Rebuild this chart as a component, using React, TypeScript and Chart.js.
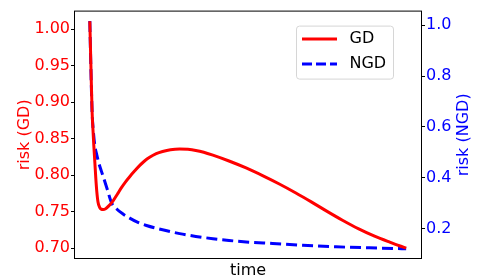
import React, { useEffect, useRef } from "react";
import { Chart, registerables } from "chart.js";

Chart.register(...registerables);

// ---- data ----
const gdTime = [0, 0.4, 0.73, 1.0, 1.26, 1.6, 1.89, 2.2, 2.6, 3.1, 3.6, 4.2, 5.0, 6.0, 7.35, 8.7, 10, 11.3, 12.6, 14.2, 15.8, 17.3, 18.9, 21, 23, 25.5, 28.4, 31, 33.5, 36, 38.9, 44, 49.4, 54.6, 59.9, 65, 70, 75, 80, 85, 90, 95, 100];
const gdRisk = [1.011, 0.94, 0.886, 0.862, 0.841, 0.817, 0.796, 0.778, 0.763, 0.756, 0.7535, 0.753, 0.754, 0.758, 0.765, 0.774, 0.783, 0.791, 0.798, 0.806, 0.8135, 0.8195, 0.8245, 0.8295, 0.8325, 0.835, 0.836, 0.8355, 0.834, 0.8315, 0.8275, 0.8195, 0.81, 0.7995, 0.788, 0.776, 0.7635, 0.7505, 0.738, 0.7265, 0.7165, 0.708, 0.7];
const ngdTime = [0, 0.3, 0.73, 1.1, 1.58, 2.2, 2.84, 3.6, 4.4, 5.6, 6.85, 8.5, 10.5, 12.6, 15.2, 17.9, 23, 28.4, 33.5, 38.9, 44, 49.4, 57.8, 67.3, 77.8, 88.3, 100];
const ngdRisk = [1.017, 0.85, 0.656, 0.585, 0.527, 0.49, 0.458, 0.428, 0.398, 0.351, 0.302, 0.277, 0.257, 0.241, 0.224, 0.212, 0.195, 0.18, 0.169, 0.16, 0.153, 0.147, 0.141, 0.134, 0.128, 0.124, 0.12];

const leftTicks = [0.7, 0.75, 0.8, 0.85, 0.9, 0.95, 1.0];
const rightTicks = [0.2, 0.4, 0.6, 0.8, 1.0];
const seriesLabels = ["GD", "NGD"];
const xTitle = "time";
const leftTitle = "risk (GD)";
const rightTitle = "risk (NGD)";

const FONT = "DejaVu Sans";
const RED = "#ff0000";
const BLUE = "#0000ff";
const DASH = [11, 5];

const decor = {
  id: "decor",
  afterDatasetsDraw(chart: any) {
    const { ctx, chartArea: a } = chart;
    ctx.save();
    // frame
    ctx.strokeStyle = "#000";
    ctx.lineWidth = 1;
    ctx.setLineDash([]);
    ctx.strokeRect(a.left + 0.5, a.top + 0.5, a.right - a.left - 1, a.bottom - a.top - 1);

    // axis titles
    ctx.font = `16px "${FONT}"`;
    ctx.textAlign = "center";
    ctx.textBaseline = "alphabetic";
    ctx.fillStyle = "#000";
    ctx.fillText(xTitle, (a.left + a.right) / 2, a.bottom + 16);
    const cy = (a.top + a.bottom) / 2;
    ctx.save();
    ctx.translate(a.left - 45.5, cy);
    ctx.rotate(-Math.PI / 2);
    ctx.fillStyle = RED;
    ctx.fillText(leftTitle, 0, 0);
    ctx.restore();
    ctx.save();
    ctx.translate(a.right + 46, cy);
    ctx.rotate(-Math.PI / 2);
    ctx.fillStyle = BLUE;
    ctx.fillText(rightTitle, 0, 0);
    ctx.restore();

    // legend
    const bx = a.right - 125.5;
    const by = a.top + 15.5;
    const bw = 97;
    const bh = 53;
    ctx.beginPath();
    (ctx as any).roundRect(bx, by, bw, bh, 3);
    ctx.fillStyle = "rgba(255,255,255,0.8)";
    ctx.fill();
    ctx.strokeStyle = "#d6d6d6";
    ctx.lineWidth = 1;
    ctx.stroke();

    const hx0 = bx + 5.5;
    const hx1 = bx + 40.5;
    const rows = [by + 12.8, by + 37.8];
    const colors = [RED, BLUE];
    ctx.lineWidth = 3;
    rows.forEach((y, i) => {
      ctx.beginPath();
      ctx.setLineDash(i === 1 ? [10, 4] : []);
      ctx.strokeStyle = colors[i];
      ctx.moveTo(hx0, y);
      ctx.lineTo(hx1, y);
      ctx.stroke();
      ctx.setLineDash([]);
      ctx.fillStyle = "#000";
      ctx.textAlign = "left";
      ctx.textBaseline = "middle";
      ctx.fillText(seriesLabels[i], bx + 53, y);
    });
    ctx.restore();
  },
};

export default function App() {
  const ref = useRef<HTMLCanvasElement | null>(null);

  useEffect(() => {
    if (!ref.current) return;
    const chart = new Chart(ref.current, {
      type: "line",
      data: {
        datasets: [
          {
            label: seriesLabels[0],
            data: gdTime.map((t, i) => ({ x: t, y: gdRisk[i] })),
            borderColor: RED,
            backgroundColor: RED,
            borderWidth: 3,
            pointRadius: 0,
            cubicInterpolationMode: "monotone",
            yAxisID: "y",
          },
          {
            label: seriesLabels[1],
            data: ngdTime.map((t, i) => ({ x: t, y: ngdRisk[i] })),
            borderColor: BLUE,
            backgroundColor: BLUE,
            borderWidth: 3,
            borderDash: DASH,
            pointRadius: 0,
            cubicInterpolationMode: "monotone",
            yAxisID: "y1",
          },
        ],
      },
      options: {
        animation: false,
        responsive: false,
        devicePixelRatio: 1,
        layout: { padding: { top: 6, bottom: 19, left: 0, right: 0 } },
        plugins: { legend: { display: false }, tooltip: { enabled: false } },
        scales: {
          x: {
            type: "linear",
            min: -5,
            max: 105,
            display: false,
          },
          y: {
            type: "linear",
            position: "left",
            min: 0.6852,
            max: 1.0256,
            afterBuildTicks: (s: any) => {
              s.ticks = leftTicks.map((v) => ({ value: v }));
            },
            afterFit: (s: any) => {
              s.width = 74;
            },
            border: { display: false },
            grid: {
              drawOnChartArea: false,
              drawTicks: true,
              tickLength: 3,
              tickColor: "#000",
              tickWidth: 1,
            },
            ticks: {
              autoSkip: false,
              padding: 1,
              color: RED,
              font: { family: FONT, size: 16 },
              callback: (v: any) => Number(v).toFixed(2),
            },
          },
          y1: {
            type: "linear",
            position: "right",
            min: 0.08,
            max: 1.058,
            afterBuildTicks: (s: any) => {
              s.ticks = rightTicks.map((v) => ({ value: v }));
            },
            afterFit: (s: any) => {
              s.width = 56;
            },
            border: { display: false },
            grid: {
              drawOnChartArea: false,
              drawTicks: true,
              tickLength: 3,
              tickColor: "#000",
              tickWidth: 1,
            },
            ticks: {
              autoSkip: false,
              padding: 1,
              color: BLUE,
              font: { family: FONT, size: 16 },
              callback: (v: any) => Number(v).toFixed(1),
            },
          },
        },
      },
      plugins: [decor],
    } as any);
    return () => chart.destroy();
  }, []);

  return (
    <div style={{ position: "fixed", left: 0, top: 0, width: 478, height: 278, background: "#fff" }}>
      <canvas ref={ref} width={478} height={278} />
    </div>
  );
}
